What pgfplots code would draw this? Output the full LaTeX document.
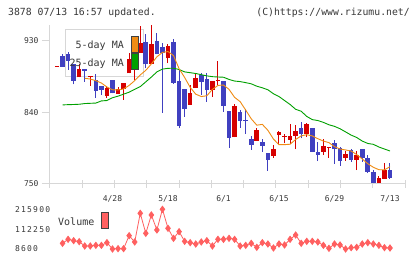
\documentclass[border=0pt]{standalone}
\usepackage{fontspec}
\setmainfont{DejaVu Sans Mono}
\usepackage{pgfplots}
\usepackage{pgfplotstable}
\pgfplotsset{compat=1.18}
\definecolor{cRed}{RGB}{214,0,0}
\definecolor{cBlue}{RGB}{64,64,192}
\definecolor{cOrange}{RGB}{240,140,20}
\definecolor{cGreen}{RGB}{0,160,0}
\definecolor{cVol}{RGB}{255,96,96}
\definecolor{cAxis}{RGB}{215,215,215}
\definecolor{cText}{RGB}{55,55,55}
\definecolor{cDark}{RGB}{64,64,64}

\pgfplotstableread{
i o h l c
0 897.5 898.7 897.5 898.7
4 884 900.6 884 894.3
6 884.5 885.7 873.3 885.7
9 861 873.7 858.6 870.4
11 863.7 872.5 863.7 869.6
12 869.6 877.5 855.7 877.1
13 889.3 914.5 889.3 907.3
14 894.3 907 880.9 906.9
15 915.3 948.9 915.3 927
17 900.6 950 900.6 926.2
20 908.2 926.2 901.9 923.7
24 849.9 874.6 849.9 864.5
25 871.3 889.3 871.3 883.4
28 868.3 880 860 879.6
29 879 904.8 874.6 880.2
32 808.7 850.7 808.7 848.6
36 804.5 820.9 804.5 818
39 785.7 799 783 794
40 811.7 816.7 799.9 815.4
41 809.6 813 801.2 810.8
42 805.4 825.5 799.9 810.4
43 810.4 823.8 794 816.7
45 813.4 827.2 809.6 825.5
48 790.3 806.6 786.5 797.8
49 795.5 797 783 796.7
52 783.1 791.5 779.4 787.8
54 780.6 791.5 767.6 786.9
58 751.7 760 751.7 757.5
59 756.7 776.4 756.7 767.6
}\upT

\pgfplotstableread{
i o h l c
1 911.1 913.6 897.7 897.7
2 913.6 915.7 893.5 905.2
3 901 901.5 875.4 880
5 894.3 894.5 878.8 892.6
7 880.9 888.4 858.6 867.4
8 873.4 873.5 862 868.3
10 880.7 881 864 864.1
16 928.7 938.8 895.6 901
18 930 940 913 913.2
19 922 927 839.7 915.3
21 928.7 932 875.8 877.5
22 879.6 894.3 820 823.4
23 869.6 870 834.7 844.4
26 886.8 890.1 862 878.8
27 882.2 889.3 853.6 868.3
30 879.6 880 841 848.6
31 841.9 842 795.7 808.3
33 840.2 843.1 820.9 829.7
34 831 844.4 812.9 829.8
35 806.6 810.4 792.8 799.5
37 802.9 806.6 790.7 798.2
38 789 789.5 766.8 780.6
44 820.9 828.4 807.5 813.4
46 820.5 821 790 790.3
47 790.3 802.9 778.9 786.5
50 801.6 805.4 775.2 794
51 795.3 796 772.7 779.4
53 792.8 794 778.1 780.2
55 794 794.5 778.1 783.1
56 783.1 786.5 763.8 765.1
57 765.1 767.6 751 751.7
60 767.6 776.4 756.3 757.5
}\downT

\pgfplotstableread{
i v
1 38214
2 59118
3 52150
4 46924
5 24278
6 24278
7 27762
8 27762
9 41698
10 8600
11 10342
12 10342
13 78280
14 45182
15 195000
16 90474
17 186284
18 107894
19 215900
20 116604
21 64344
22 99184
23 48666
24 41698
25 34730
26 45182
27 52150
28 24278
29 59118
30 59118
31 64344
32 59118
33 24278
34 27762
35 38214
36 17310
37 41698
38 34730
39 13826
40 34730
41 29504
42 59118
43 81764
44 38214
45 48666
46 48666
47 45182
48 27762
49 12084
50 34730
51 29504
52 8600
53 15568
54 17310
55 34730
56 41698
57 34730
58 27762
59 15568
60 13826
}\volT

\begin{document}
\begin{tikzpicture}[x=1pt,y=1pt]
\path[use as bounding box] (0,0) rectangle (420,259);
\fill[white] (0,0) rectangle (420,259);
\node[anchor=west, inner sep=0pt, text=cText, font=\fontsize{9.8}{11}\selectfont] at (8,246.5) {3878 07/13 16:57 updated.};
\node[anchor=east, inner sep=0pt, text=cText, font=\fontsize{9.8}{11}\selectfont] at (410,246.5) {(C)https://www.rizumu.net/};
\draw[draw=cAxis, fill=white, line width=1pt] (65,182) rectangle (143,229);

\begin{axis}[at={(50pt,75pt)}, anchor=south west, scale only axis,
  width=355pt, height=159pt,
  xmin=-1.261, xmax=62.704, ymin=750, ymax=950,
  axis x line*=bottom, axis y line*=left,
  axis line style={draw=cAxis, line width=1pt},
  tick align=outside, major tick length=8pt,
  xtick={-1.261,4.554,10.369,16.184,21.999,27.814,33.629,39.444,45.259,51.074,56.889,62.704},
  xticklabels={},
  xtick style={draw=cAxis, line width=1pt, yshift=4pt},
  extra x ticks={10,20,30,40,50,60},
  extra x tick labels={4/28,5/18,6/1,6/15,6/29,7/13},
  extra x tick style={xtick style={draw=none}},
  ytick={750,840,930}, yticklabels={750,840,930},
  ytick style={draw=cAxis, line width=1pt},
  tick label style={font=\fontsize{8}{9}\selectfont, text=cText},
  /pgf/number format/assume math mode=true,
  clip=false]
\addplot[draw=none, mark=none, forget plot, error bars/.cd, y dir=plus, y explicit, error mark=none, error bar style={draw=cRed, line width=1pt}] table[x=i, y=l, y error expr=\thisrow{h}-\thisrow{l}] {\upT};
\addplot[draw=none, mark=none, forget plot, error bars/.cd, y dir=plus, y explicit, error mark=none, error bar style={draw=cRed, line width=4.6pt}] table[x=i, y=o, y error expr=\thisrow{c}-\thisrow{o}] {\upT};
\addplot[draw=none, mark=none, forget plot, error bars/.cd, y dir=plus, y explicit, error mark=none, error bar style={draw=cBlue, line width=1pt}] table[x=i, y=l, y error expr=\thisrow{h}-\thisrow{l}] {\downT};
\addplot[draw=none, mark=none, forget plot, error bars/.cd, y dir=plus, y explicit, error mark=none, error bar style={draw=cBlue, line width=4.6pt}] table[x=i, y=c, y error expr=\thisrow{o}-\thisrow{c}] {\downT};
\addplot[cGreen, line width=0.9pt, mark=none] coordinates {
(1,849.5)(2,849.8)(3,850)(4,850.3)(5,851.2)(6,851.5)(7,851.8)(8,854.5)(9,855)(10,858.5)
(11,860.5)(12,863)(13,865.5)(14,869)(15,872.5)(16,878.5)(17,884.5)(18,891)(19,894.5)(20,895.5)
(21,895.6)(22,894)(23,891)(24,890)(25,889)(26,887.5)(27,886)(28,885)(29,884.6)(30,884.3)
(31,881.5)(32,879.5)(33,878.8)(34,877.5)(35,876)(36,873)(37,871)(38,868.5)(39,863.5)(40,860)
(41,855)(42,850)(43,844)(44,841.5)(45,835)(46,831)(47,829.8)(48,827.5)(49,824.5)(50,822.5)
(51,819.5)(52,815.5)(53,811.5)(54,808.5)(55,804)(56,801)(57,799.9)(58,796.5)(59,794)(60,791.5)};
\addplot[cOrange, line width=0.9pt, mark=none] coordinates {
(5,883)(6,882)(7,880)(8,877)(9,872)(10,868.5)(11,868.3)(12,869.5)(13,874)(14,880)
(15,887.2)(16,893)(17,901)(18,910)(19,915.5)(20,916.6)(21,911.5)(22,895)(23,884)(24,871.5)
(25,863)(26,860)(27,861)(28,869)(29,874)(30,874.5)(31,869)(32,859)(33,853.6)(34,843)
(35,832)(36,824)(37,825)(38,817.5)(39,806.5)(40,799.5)(41,799.5)(42,800)(43,806)(44,810.5)
(45,812)(46,810.5)(47,807)(48,804)(49,802)(50,797)(51,794)(52,792.8)(53,791.5)(54,787)
(55,781.5)(56,775.5)(57,771)(58,768)(59,767.8)(60,771.8)};
\end{axis}

\node[anchor=east, inner sep=0pt, text=cText, font=\fontsize{10}{11}\selectfont] at (124,213) {5-day MA};
\node[anchor=east, inner sep=0pt, text=cText, font=\fontsize{10}{11}\selectfont] at (124,195.5) {25-day MA};
\draw[fill=cOrange, draw=cDark, line width=1pt] (131,222.3) rectangle (138,206.7);
\draw[fill=cGreen, draw=cDark, line width=1pt] (131,205) rectangle (138,189.7);

\begin{axis}[at={(50pt,6pt)}, anchor=south west, scale only axis,
  width=355pt, height=48pt,
  xmin=-1.261, xmax=62.704, ymin=-12288, ymax=238355,
  scaled y ticks=false,
  axis line style={draw=none}, xtick=\empty,
  ytick={8600,112250,215900}, yticklabels={8600,112250,215900},
  ytick style={draw=none},
  yticklabel style={anchor=west, inner sep=0pt, xshift=-35pt, font=\fontsize{8}{9}\selectfont\addfontfeature{LetterSpace=15}, text=cText},
  clip=false]
\addplot[cVol, line width=0.8pt, mark=diamond*, mark size=3.1pt, mark options={fill=cVol, draw=cVol}] table[x=i, y=v] {\volT};
\end{axis}
\node[anchor=west, inner sep=0pt, text=cText, font=\fontsize{10}{11}\selectfont] at (58,37) {Volume};
\draw[fill=cVol, draw=cDark, line width=1pt] (101,46.3) rectangle (108,30.7);
\end{tikzpicture}
\end{document}
